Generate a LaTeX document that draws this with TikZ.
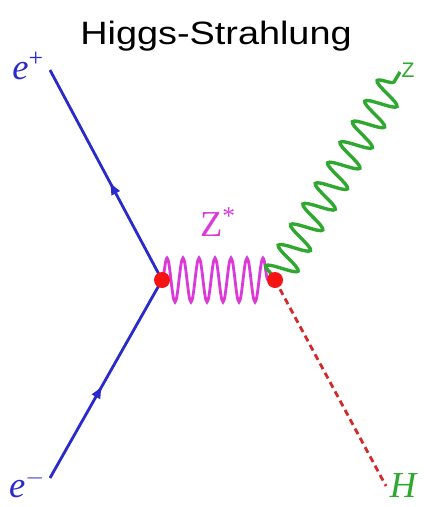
\documentclass[tikz,border=0pt]{standalone}
\usepackage{fontspec}
\setmainfont{Liberation Serif}
\setsansfont{Liberation Sans}
\usetikzlibrary{arrows.meta, decorations.pathmorphing, decorations.markings, backgrounds}
\definecolor{cfermion}{HTML}{2A2ACC}
\definecolor{cphoton}{HTML}{D93BD9}
\definecolor{czboson}{HTML}{2EA82E}
\definecolor{chiggs}{HTML}{D22A2A}
\definecolor{cvertex}{HTML}{F41414}
\tikzset{
  fermion/.style={draw=cfermion, line width=2pt, postaction={decorate},
    decoration={markings, mark=at position #1 with {\arrow{Latex[length=3.4mm,width=2.6mm]}}}},
  fermion/.default=0.5,
  photon/.style={draw=cphoton, line width=2pt, decorate, decoration={snake, segment length=0.4cm, amplitude=0.55cm}},
  zboson/.style={draw=czboson, line width=2.4pt, decorate, decoration={snake, segment length=0.6cm, amplitude=0.38cm}},
  higgs/.style={draw=chiggs, line width=2pt, dash pattern=on 4.5pt off 3pt},
  vertex/.style={circle, fill=cvertex, inner sep=0pt, minimum size=0.4cm},
  title/.style={font=\sffamily\fontsize{23}{27}\selectfont, xscale=1.17, transform shape},
  lab/.style={font=\fontsize{26}{30}\selectfont, inner sep=0pt},
}

\begin{document}
\begin{tikzpicture}[x=0.025cm, y=-0.025cm]
  \useasboundingbox (0,0) rectangle (423,507);
  \node[title] (ttl) at (216,36) {Higgs-Strahlung};
  \node[vertex] (v1) at (162,280) {};
  \node[vertex] (v2) at (275,280) {};
  \coordinate (pend) at (50,70);
  \coordinate (mend) at (50,478);
  \coordinate (zend) at (400,72);
  \coordinate (hend) at (386,486);
  \node[lab, text=cfermion] (ep) at (28,66) {\textit{e}\textsuperscript{+}};
  \node[lab, text=cfermion] (em) at (27,484) {\textit{e}\textsuperscript{$-$}};
  \node[lab, text=cphoton] (zs) at (218,222) {Z\textsuperscript{*}};
  \node[lab, text=czboson, font=\sffamily\fontsize{15}{18}\selectfont] (zl) at (408,70) {Z};
  \node[lab, text=czboson] (hl) at (404,486) {\textit{H}};
  \begin{scope}[on background layer]
    \draw[fermion=0.47] (v1.center) -- (pend);
    \draw[fermion=0.47] (mend) -- (v1.center);
    \draw[photon] (v1.center) -- (v2.center);
    \draw[zboson] (v2.center) -- (zend);
    \draw[higgs] (v2.center) -- (hend);
  \end{scope}
\end{tikzpicture}
\end{document}
